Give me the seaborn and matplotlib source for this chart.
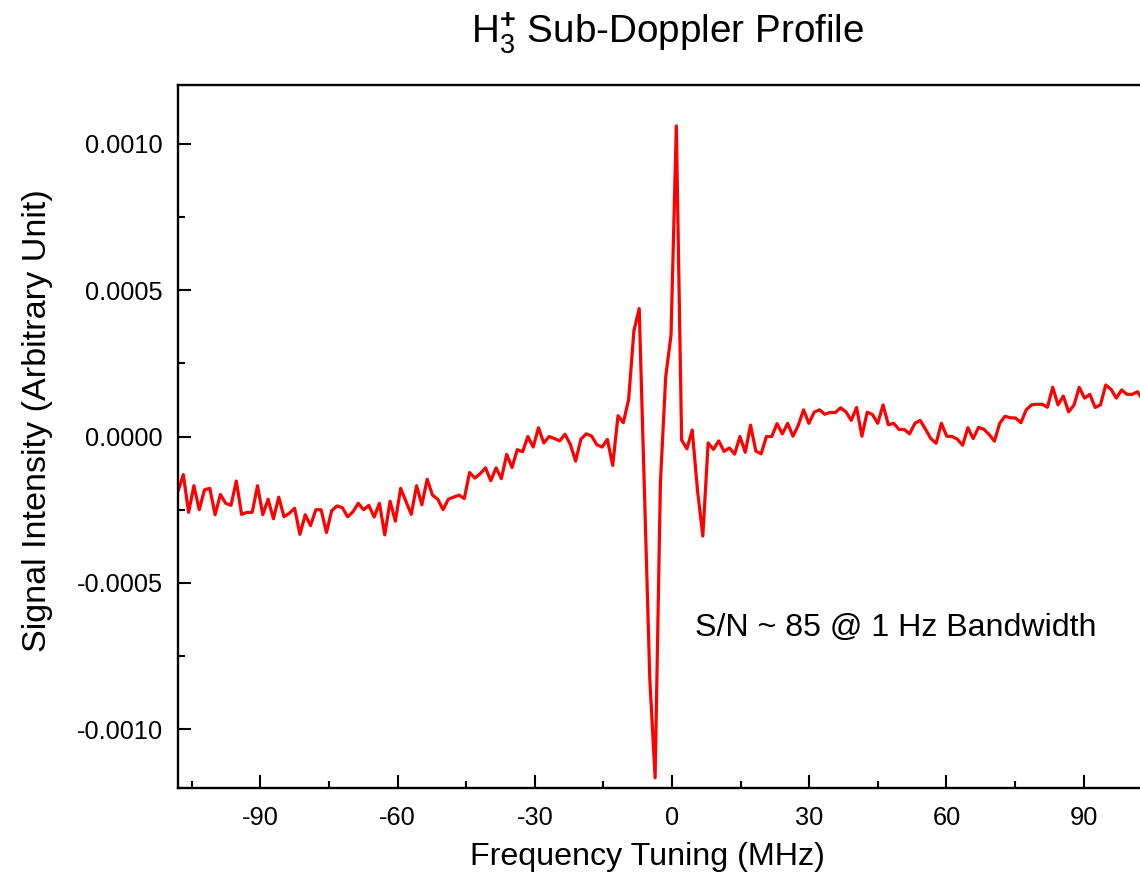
import numpy as np
import pandas as pd
import matplotlib
matplotlib.use("Agg")
import matplotlib.pyplot as plt
from matplotlib.ticker import FixedLocator, FuncFormatter
import seaborn as sns

# ---------------- data ----------------
freq_start = -108.0     # MHz, first sample of the scan
freq_step = 1.159       # MHz, scan step

signal_left = [
    -1.87e-4, -1.30e-4, -2.59e-4, -1.68e-4, -2.50e-4, -1.82e-4, -1.77e-4, -2.67e-4,
    -1.98e-4, -2.28e-4, -2.35e-4, -1.52e-4, -2.66e-4, -2.59e-4, -2.59e-4, -1.68e-4,
    -2.67e-4, -2.14e-4, -2.81e-4, -2.07e-4, -2.74e-4, -2.62e-4, -2.45e-4, -3.34e-4,
    -2.67e-4, -3.04e-4, -2.50e-4, -2.50e-4, -3.28e-4, -2.53e-4, -2.37e-4, -2.43e-4,
    -2.74e-4, -2.57e-4, -2.28e-4, -2.50e-4, -2.35e-4, -2.75e-4, -2.28e-4, -3.36e-4,
    -2.21e-4, -2.89e-4, -1.77e-4, -2.22e-4, -2.66e-4, -1.68e-4,
]
signal_rise = [
    -2.33e-4, -1.46e-4, -2.00e-4, -2.14e-4, -2.50e-4, -2.14e-4, -2.07e-4, -2.00e-4,
    -2.12e-4, -1.23e-4, -1.42e-4, -1.27e-4, -1.07e-4, -1.51e-4, -1.07e-4, -1.44e-4,
    -6.1e-5, -1.06e-4, -4.5e-5, -5.2e-5, 0.0, -3.6e-5, 3.0e-5, -2.2e-5,
    0.0, -7e-6, -1.5e-5, 8e-6, -2.7e-5, -8.4e-5, -9e-6, 9e-6,
    2e-6, -2.8e-5, -3.6e-5, -1.0e-5, -9.9e-5, 7.1e-5, 4.7e-5, 1.26e-4,
]
signal_center = [
    3.61e-4, 4.37e-4, -1.96e-4, -8.29e-4, -1.165e-3, -1.56e-4, 2.04e-4, 3.46e-4,
    1.06e-3, -1.2e-5, -4.2e-5, 2.2e-5, -1.85e-4, -3.40e-4, -2.2e-5, -4.4e-5, -1.5e-5,
]
signal_right = [
    -5.1e-5, -3.9e-5, -6.0e-5, 0.0, -5.4e-5, 3.9e-5, -5.0e-5, -5.9e-5,
    0.0, 0.0, 4.4e-5, 9e-6, 4.5e-5, 1e-6, 3.8e-5, 9.1e-5,
    4.5e-5, 8.3e-5, 9.1e-5, 7.6e-5, 8.2e-5, 8.2e-5, 9.8e-5, 8.4e-5,
    5.5e-5, 9.9e-5, 1e-6, 8.3e-5, 7.5e-5, 4.5e-5, 1.08e-4, 4.0e-5,
    4.5e-5, 2.4e-5, 2.4e-5, 9e-6,
    4.5e-5, 5.5e-5, 2.5e-5, -7e-6, -2.3e-5, 4.5e-5, 1e-6, 0.0,
    -9e-6, -3.0e-5, 3.0e-5, -7e-6, 3.1e-5, 2.5e-5, 7e-6, -1.6e-5,
    4.5e-5, 6.9e-5, 6.4e-5, 6.3e-5, 4.7e-5, 9.1e-5, 1.08e-4, 1.10e-4,
    1.10e-4, 1.00e-4, 1.68e-4, 1.08e-4, 1.38e-4, 8.4e-5, 1.07e-4, 1.68e-4,
    1.31e-4, 1.44e-4, 9.9e-5, 1.08e-4, 1.76e-4, 1.61e-4, 1.31e-4, 1.59e-4,
    1.44e-4, 1.44e-4, 1.53e-4, 1.23e-4,
]

x_major = [-90, -60, -30, 0, 30, 60, 90]
x_minor = [-105, -75, -45, -15, 15, 45, 75, 105]
y_major = [-0.0010, -0.0005, 0.0, 0.0005, 0.0010]
y_minor = [-0.00075, -0.00025, 0.00025, 0.00075]

title_text = r"H$_3^{\mathbf{+}}$ Sub-Doppler Profile"
xlabel_text = "Frequency Tuning (MHz)"
ylabel_text = "Signal Intensity (Arbitrary Unit)"
note_text = "S/N ~ 85 @ 1 Hz Bandwidth"

# ---------------- build frame ----------------
signal = np.array(signal_left + signal_rise + signal_center + signal_right)
freq = freq_start + freq_step * np.arange(len(signal))
df = pd.DataFrame({"freq": freq, "signal": signal})

# ---------------- style ----------------
sns.set_style("white")
plt.rcParams["font.family"] = ["Liberation Sans", "DejaVu Sans"]
plt.rcParams["mathtext.fontset"] = "custom"
plt.rcParams["mathtext.rm"] = "Liberation Sans"
plt.rcParams["mathtext.it"] = "Liberation Sans:italic"
plt.rcParams["mathtext.bf"] = "Liberation Sans:bold"
plt.rcParams["axes.unicode_minus"] = False

W, H = 1140, 874
fig = plt.figure(figsize=(W / 100, H / 100), dpi=100)
ax_left, ax_right, ax_top, ax_bottom = 178, 1166, 85, 788
ax = fig.add_axes([ax_left / W, 1 - ax_bottom / H,
                   (ax_right - ax_left) / W, (ax_bottom - ax_top) / H])

sns.lineplot(data=df, x="freq", y="signal", color="#ff0000", linewidth=2.3,
             ax=ax, legend=False, estimator=None, sort=False)

ax.set_xlim(-108, 108)
ax.set_ylim(-0.0012, 0.0012)
ax.set_xlabel("")
ax.set_ylabel("")

ax.xaxis.set_major_locator(FixedLocator(x_major))
ax.xaxis.set_minor_locator(FixedLocator(x_minor))
ax.yaxis.set_major_locator(FixedLocator(y_major))
ax.yaxis.set_minor_locator(FixedLocator(y_minor))
ax.xaxis.set_major_formatter(FuncFormatter(lambda v, p: f"{v:.0f}"))
ax.yaxis.set_major_formatter(FuncFormatter(lambda v, p: f"{v:.4f}"))

ax.tick_params(which="both", direction="in", colors="black", width=1.5,
               bottom=True, left=True, top=False, right=False,
               labelsize=18.3)
ax.tick_params(which="major", length=9.5)
ax.tick_params(which="minor", length=5)
ax.tick_params(axis="x", which="major", pad=13)
ax.tick_params(axis="y", which="major", pad=11)

for side in ["left", "bottom", "top", "right"]:
    ax.spines[side].set_color("black")
    ax.spines[side].set_linewidth(1.7)
    ax.spines[side].set_visible(True)

ax.text(0.5233, 0.2276, note_text, transform=ax.transAxes, ha="left",
        va="center", fontsize=23.1, color="black")

fig.text(668 / W, 1 - 44 / H, title_text, ha="center", va="baseline",
         fontsize=27.8, color="black")
fig.text(647.5 / W, 1 - 865 / H, xlabel_text, ha="center", va="baseline",
         fontsize=23.2, color="black")
fig.text(38 / W, 1 - 421 / H, ylabel_text, ha="center", va="center",
         rotation=90, fontsize=24.6, color="black")

fig.savefig("out.png", dpi=100, facecolor="white")
